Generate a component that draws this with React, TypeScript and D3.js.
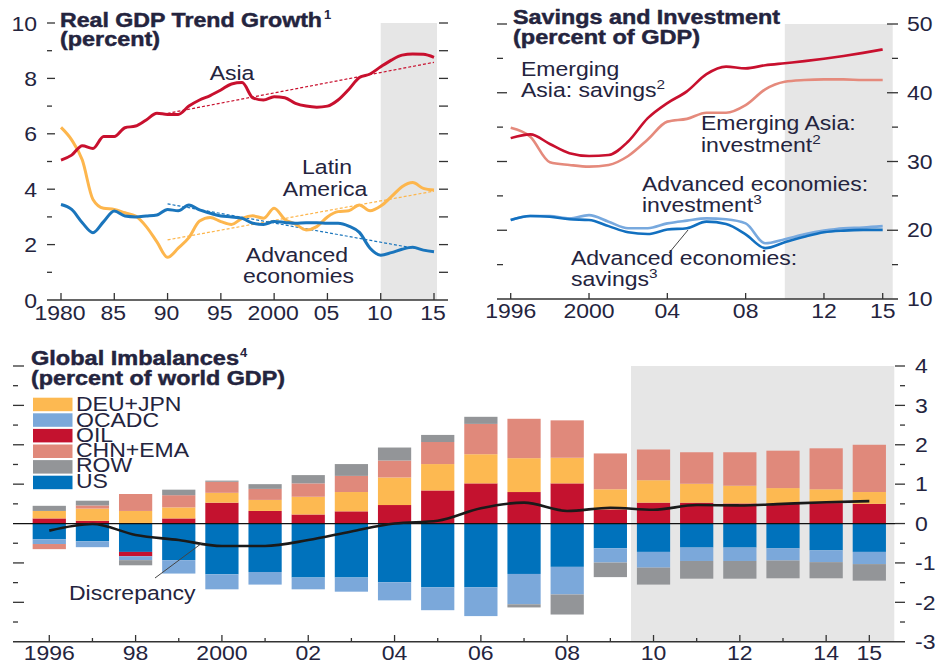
import React from "react";
import * as d3 from "d3";

// ---------- Panel A: Real GDP trend growth ----------
const yearsA = [1980,1981,1982,1983,1984,1985,1986,1987,1988,1989,1990,1991,1992,1993,1994,1995,1996,1997,1998,1999,2000,2001,2002,2003,2004,2005,2006,2007,2008,2009,2010,2011,2012,2013,2014,2015];
const asia = [5.05,5.23,5.57,5.47,5.9,5.9,6.22,6.28,6.5,6.74,6.7,6.7,7.0,7.22,7.38,7.58,7.8,7.85,7.3,7.22,7.34,7.3,7.1,7.0,6.96,7.0,7.22,7.6,8.03,8.16,8.42,8.66,8.84,8.88,8.87,8.76];
const latam = [6.23,5.78,5.05,3.63,3.31,3.27,3.15,3.03,2.65,2.1,1.54,1.87,2.25,2.85,2.98,2.83,2.73,2.95,3.04,2.95,3.31,2.91,2.74,2.53,2.65,3.0,3.19,3.22,3.43,3.22,3.39,3.73,4.09,4.24,4.03,3.97];
const advanced = [3.45,3.27,2.79,2.43,2.83,3.21,3.03,3.0,3.03,3.07,3.27,3.22,3.43,3.25,3.13,3.03,3.0,2.95,2.77,2.73,2.83,2.8,2.77,2.79,2.79,2.77,2.77,2.67,2.44,1.87,1.62,1.71,1.83,1.9,1.8,1.74];
const trendYears = [1990, 2015];
const asiaTrend = [6.74, 8.58];
const latamTrend = [2.17, 3.93];
const advTrend = [3.47, 1.74];
const ticksA = [1980,1985,1990,1995,2000,2005,2010,2015];
const tickLabelsA = ["1980","85","90","95","2000","05","10","15"];

// ---------- Panel B: Savings and investment ----------
const yearsB = [1996,1997,1998,1999,2000,2001,2002,2003,2004,2005,2006,2007,2008,2009,2010,2011,2012,2013,2014,2015];
const eaSavings = [33.4,33.95,32.55,31.2,30.8,30.95,32.9,36.3,38.5,40.2,42.7,43.8,43.55,44.0,44.3,44.6,44.95,45.35,45.8,46.3];
const eaInvestment = [34.9,33.6,29.9,29.5,29.25,29.5,30.8,33.2,35.8,36.2,37.1,37.1,38.2,40.5,41.6,41.85,41.95,41.95,41.85,41.85];
const aeInvestment = [21.5,22.07,22.07,21.73,22.2,21.25,20.3,20.3,21.0,21.4,21.73,21.6,21.0,18.1,18.7,19.4,19.95,20.3,20.4,20.6];
const aeSavings = [21.5,22.07,21.97,21.6,21.5,20.6,19.7,19.45,20.1,20.3,21.25,20.9,19.4,17.4,18.25,19.05,19.7,19.95,20.05,20.05];
const ticksB = [1996,2000,2004,2008,2012,2015];
const tickLabelsB = ["1996","2000","04","08","12","15"];

// ---------- Panel C: Global imbalances ----------
const yearsC = [1996,1997,1998,1999,2000,2001,2002,2003,2004,2005,2006,2007,2008,2009,2010,2011,2012,2013,2014,2015];
const us = [-0.4,-0.45,-0.72,-0.93,-1.29,-1.23,-1.37,-1.37,-1.49,-1.62,-1.62,-1.28,-1.1,-0.63,-0.72,-0.61,-0.61,-0.63,-0.68,-0.72];
const oil = [0.13,0.07,-0.11,0.13,0.53,0.32,0.23,0.31,0.47,0.84,1.02,0.8,1.02,0.36,0.53,0.53,0.51,0.51,0.52,0.5];
const deuJpn = [0.19,0.31,0.32,0.28,0.25,0.28,0.45,0.49,0.7,0.67,0.74,0.86,0.65,0.51,0.57,0.48,0.45,0.39,0.35,0.3];
const ocadc = [-0.12,-0.15,-0.1,-0.34,-0.38,-0.32,-0.3,-0.36,-0.46,-0.58,-0.73,-0.77,-0.7,-0.36,-0.4,-0.34,-0.34,-0.31,-0.3,-0.31];
const chnEma = [-0.13,0.08,0.43,0.31,0.28,0.28,0.34,0.41,0.43,0.56,0.77,1.0,0.95,0.91,0.78,0.8,0.85,0.95,1.04,1.2];
const row = [0.13,0.12,-0.13,0.14,0.03,0.12,0.21,0.3,0.33,0.18,0.18,-0.08,-0.51,-0.37,-0.43,-0.45,-0.45,-0.45,-0.41,-0.42];
const discrepancy = [-0.18,-0.01,-0.29,-0.42,-0.57,-0.57,-0.42,-0.2,0.0,0.07,0.39,0.53,0.32,0.4,0.35,0.47,0.46,0.5,0.54,0.57];
const labeledC = [1996,1998,2000,2002,2004,2006,2008,2010,2012,2014,2015];
const labelsC = ["1996","98","2000","02","04","06","08","10","12","14","15"];
const legendNames = ["DEU+JPN","OCADC","OIL","CHN+EMA","ROW","US"];
const legendKeys = ["deuJpn","ocadc","oil","chnEma","row","us"];
const stackOrder = ["us","oil","deuJpn","ocadc","chnEma","row"];

const COLORS: Record<string,string> = {
  deuJpn: "#fdb951",
  ocadc: "#7ba8da",
  oil: "#c4122f",
  chnEma: "#e0897b",
  row: "#939598",
  us: "#0072bc",
};

const FONT = "'Liberation Sans', Arial, Helvetica, sans-serif";
const TXT = "#24243e";
const AX = "#333";
const SHADE = "#e6e6e6";
const SX = 1.18;

function T({x, y, anchor = "start", size = 19.5, weight = "normal", children}: any) {
  return (
    <text transform={`translate(${x},${y}) scale(${SX},1)`} textAnchor={anchor}
      fontSize={size} fontWeight={weight} fill={TXT} fontFamily={FONT}>{children}</text>
  );
}
function Title({x, y, len, children}: any) {
  return (
    <text x={x} y={y} textLength={len} lengthAdjust="spacingAndGlyphs" fontSize={19.5}
      fontWeight="bold" fill={TXT} stroke={TXT} strokeWidth={0.45} fontFamily={FONT}>{children}</text>
  );
}
function Sup({children, size = 13}: any) {
  return <tspan fontSize={size} dy={-8}>{children}</tspan>;
}

export default function App() {
  // Panel A scales
  const xA = d3.scaleLinear().domain([1980, 2015]).range([61, 434]);
  const yA = d3.scaleLinear().domain([0, 10]).range([300, 23]);
  const lineA = (vals: number[]) =>
    d3.line<number>().x((_, i) => xA(yearsA[i])).y((v) => yA(v)).curve(d3.curveMonotoneX)(vals) || "";
  const trendA = (vals: number[]) =>
    d3.line<number>().x((_, i) => xA(trendYears[i])).y((v) => yA(v))(vals) || "";

  // Panel B scales
  const xB = d3.scaleLinear().domain([1996, 2015]).range([510.7, 882.7]);
  const yB = d3.scaleLinear().domain([10, 50]).range([299, 24]);
  const lineB = (vals: number[]) =>
    d3.line<number>().x((_, i) => xB(yearsB[i])).y((v) => yB(v)).curve(d3.curveMonotoneX)(vals) || "";

  // Panel C scales
  const xC = d3.scaleBand<number>().domain(yearsC).range([27.7, 890.9]).paddingInner(0.23).paddingOuter(0.115);
  const xCc = (yr: number) => (xC(yr) as number) + xC.bandwidth() / 2;
  const yC = d3.scaleLinear().domain([-3, 4]).range([641.7, 366]);
  const seriesMap: Record<string, number[]> = {us, oil, deuJpn, ocadc, chnEma, row};
  const rowsC = yearsC.map((yr, i) => {
    const r: any = {year: yr};
    stackOrder.forEach((k) => (r[k] = seriesMap[k][i]));
    return r;
  });
  const stacked = d3.stack<any>().keys(stackOrder).offset(d3.stackOffsetDiverging)(rowsC);
  const discLine = d3.line<number>().x((_, i) => xCc(yearsC[i])).y((v) => yC(v)).curve(d3.curveMonotoneX)(discrepancy) || "";
  const bw = xC.bandwidth();

  const yTicksA = d3.range(1, 11);
  const yTicksB = d3.range(15, 51, 5);
  const yTicksC = d3.range(-2.5, 4.01, 0.5).filter((v) => Math.abs(v) > 1e-9);

  return (
    <svg width={936} height={663} style={{position: "absolute", left: 0, top: 0, background: "#fff"}}>
      {/* ---------------- Panel A ---------------- */}
      <rect x={xA(2010)} y={yA(10)} width={437 - xA(2010)} height={yA(0) - yA(10)} fill={SHADE} />
      <line x1={47} x2={448} y1={yA(0)} y2={yA(0)} stroke={AX} strokeWidth={1.5} />
      {yTicksA.map((v) => (
        <g key={"ya" + v}>
          <line x1={47} x2={v % 2 === 0 ? 55 : 52} y1={yA(v)} y2={yA(v)} stroke={AX} strokeWidth={1.3} />
          <line x1={439} x2={448} y1={yA(v)} y2={yA(v)} stroke={AX} strokeWidth={1.3} />
        </g>
      ))}
      {[0, 2, 4, 6, 8, 10].map((v) => (
        <T key={"yla" + v} x={37} y={yA(v) + 7.5} anchor="end">{v}</T>
      ))}
      {ticksA.map((t, i) => (
        <g key={"xa" + t}>
          <line x1={xA(t)} x2={xA(t)} y1={293} y2={300} stroke={AX} strokeWidth={1.3} />
          <T x={xA(t) - 1} y={320} anchor="middle">{tickLabelsA[i]}</T>
        </g>
      ))}
      <path d={trendA(asiaTrend)} fill="none" stroke="#c8102e" strokeWidth={1.2} strokeDasharray="3,2" />
      <path d={trendA(latamTrend)} fill="none" stroke="#fdb64d" strokeWidth={1.2} strokeDasharray="3,2" />
      <path d={trendA(advTrend)} fill="none" stroke="#1a75bc" strokeWidth={1.2} strokeDasharray="3,2" />
      <path d={lineA(latam)} fill="none" stroke="#fdb64d" strokeWidth={3} />
      <path d={lineA(advanced)} fill="none" stroke="#1a75bc" strokeWidth={3} />
      <path d={lineA(asia)} fill="none" stroke="#c8102e" strokeWidth={3} />
      <Title x={60} y={27} len={262}>Real GDP Trend Growth</Title>
      <text x={324} y={19} fontSize={13} fontWeight="bold" fill={TXT} fontFamily={FONT}>1</text>
      <Title x={60} y={46} len={100}>(percent)</Title>
      <T x={232} y={80} anchor="middle">Asia</T>
      <T x={327} y={174} anchor="middle">Latin</T>
      <T x={325} y={195.5} anchor="middle">America</T>
      <T x={297} y={262} anchor="middle">Advanced</T>
      <T x={298.5} y={283} anchor="middle">economies</T>

      {/* ---------------- Panel B ---------------- */}
      <rect x={xB(2010)} y={yB(50)} width={892.7 - xB(2010)} height={yB(10) - yB(50)} fill={SHADE} />
      <line x1={497} x2={898} y1={yB(10)} y2={yB(10)} stroke={AX} strokeWidth={1.5} />
      {yTicksB.map((v) => (
        <g key={"yb" + v}>
          <line x1={497} x2={v % 10 === 0 ? 507 : 503} y1={yB(v)} y2={yB(v)} stroke={AX} strokeWidth={1.3} />
          <line x1={v % 10 === 0 ? 887 : 892} x2={898} y1={yB(v)} y2={yB(v)} stroke={AX} strokeWidth={1.3} />
        </g>
      ))}
      {[10, 20, 30, 40, 50].map((v) => (
        <T key={"ylb" + v} x={907} y={yB(v) + 7} anchor="start">{v}</T>
      ))}
      {ticksB.map((t, i) => (
        <g key={"xb" + t}>
          <line x1={xB(t)} x2={xB(t)} y1={293} y2={299} stroke={AX} strokeWidth={1.3} />
          <T x={xB(t)} y={318} anchor="middle">{tickLabelsB[i]}</T>
        </g>
      ))}
      <path d={lineB(eaInvestment)} fill="none" stroke="#e58a7c" strokeWidth={2.6} />
      <path d={lineB(eaSavings)} fill="none" stroke="#c8102e" strokeWidth={2.6} />
      <path d={lineB(aeInvestment)} fill="none" stroke="#78a9de" strokeWidth={2.6} />
      <path d={lineB(aeSavings)} fill="none" stroke="#1270c0" strokeWidth={2.6} />
      <line x1={669} y1={253} x2={688} y2={230} stroke="#444" strokeWidth={1} />
      <Title x={513} y={24} len={267}>Savings and Investment</Title>
      <Title x={513} y={44} len={187}>(percent of GDP)</Title>
      <T x={521} y={76}>Emerging</T>
      <T x={521} y={96.5}>Asia: savings<Sup>2</Sup></T>
      <T x={701} y={130}>Emerging Asia:</T>
      <T x={701} y={151.5}>investment<Sup>2</Sup></T>
      <T x={642} y={190.5}>Advanced economies:</T>
      <T x={642} y={211.5}>investment<Sup>3</Sup></T>
      <T x={571} y={265}>Advanced economies:</T>
      <T x={571} y={285.5}>savings<Sup>3</Sup></T>

      {/* ---------------- Panel C ---------------- */}
      <rect x={631} y={yC(4)} width={894.3 - 631} height={yC(-3) - yC(4)} fill={SHADE} />
      {stacked.map((s) => (
        <g key={s.key} fill={COLORS[s.key]}>
          {s.map((d, i) => {
            const y0 = yC(d[0]);
            const y1 = yC(d[1]);
            const h = Math.abs(y0 - y1);
            if (h < 0.01) return null;
            return <rect key={i} x={xC(yearsC[i]) as number} width={bw} y={Math.min(y0, y1)} height={h} />;
          })}
        </g>
      ))}
      <line x1={13} x2={895} y1={yC(0)} y2={yC(0)} stroke="#111" strokeWidth={1.2} />
      <line x1={13} x2={905} y1={yC(-3)} y2={yC(-3)} stroke={AX} strokeWidth={1.5} />
      {yTicksC.map((v) => {
        const major = Math.abs(v - Math.round(v)) < 1e-9;
        return (
          <g key={"yc" + v}>
            <line x1={13} x2={major ? 24 : 18} y1={yC(v)} y2={yC(v)} stroke={AX} strokeWidth={1.3} />
            <line x1={major ? 895 : 900} x2={905} y1={yC(v)} y2={yC(v)} stroke={AX} strokeWidth={1.3} />
          </g>
        );
      })}
      <line x1={895} x2={905} y1={yC(0)} y2={yC(0)} stroke={AX} strokeWidth={1.3} />
      {[4, 3, 2, 1, 0, -1, -2, -3].map((v) => (
        <T key={"ylc" + v} x={915} y={yC(v) + 7.3} anchor="start">{v}</T>
      ))}
      {yearsC.map((yr) => {
        const major = labeledC.includes(yr);
        return (
          <line key={"xc" + yr} x1={xCc(yr)} x2={xCc(yr)} y1={major ? 635 : 638} y2={yC(-3)} stroke={AX} strokeWidth={1.3} />
        );
      })}
      {labeledC.map((yr, i) => (
        <T key={"xlc" + yr} x={xCc(yr)} y={660} anchor="middle">{labelsC[i]}</T>
      ))}
      <path d={discLine} fill="none" stroke="#1a1a1a" strokeWidth={2.6} />
      <line x1={155} y1={578} x2={201.7} y2={543.3} stroke="#444" strokeWidth={1} />
      <T x={69} y={600}>Discrepancy</T>
      <Title x={31} y={365} len={208}>Global Imbalances</Title>
      <text x={240} y={357} fontSize={13} fontWeight="bold" fill={TXT} fontFamily={FONT}>4</text>
      <Title x={31} y={385} len={254}>(percent of world GDP)</Title>
      {legendKeys.map((k, i) => (
        <g key={"lg" + k}>
          <rect x={33} y={397.7 + i * 15.6} width={39.5} height={13.5} fill={COLORS[k]} />
          <T x={76} y={411.2 + i * 15.3}>{legendNames[i]}</T>
        </g>
      ))}
    </svg>
  );
}
